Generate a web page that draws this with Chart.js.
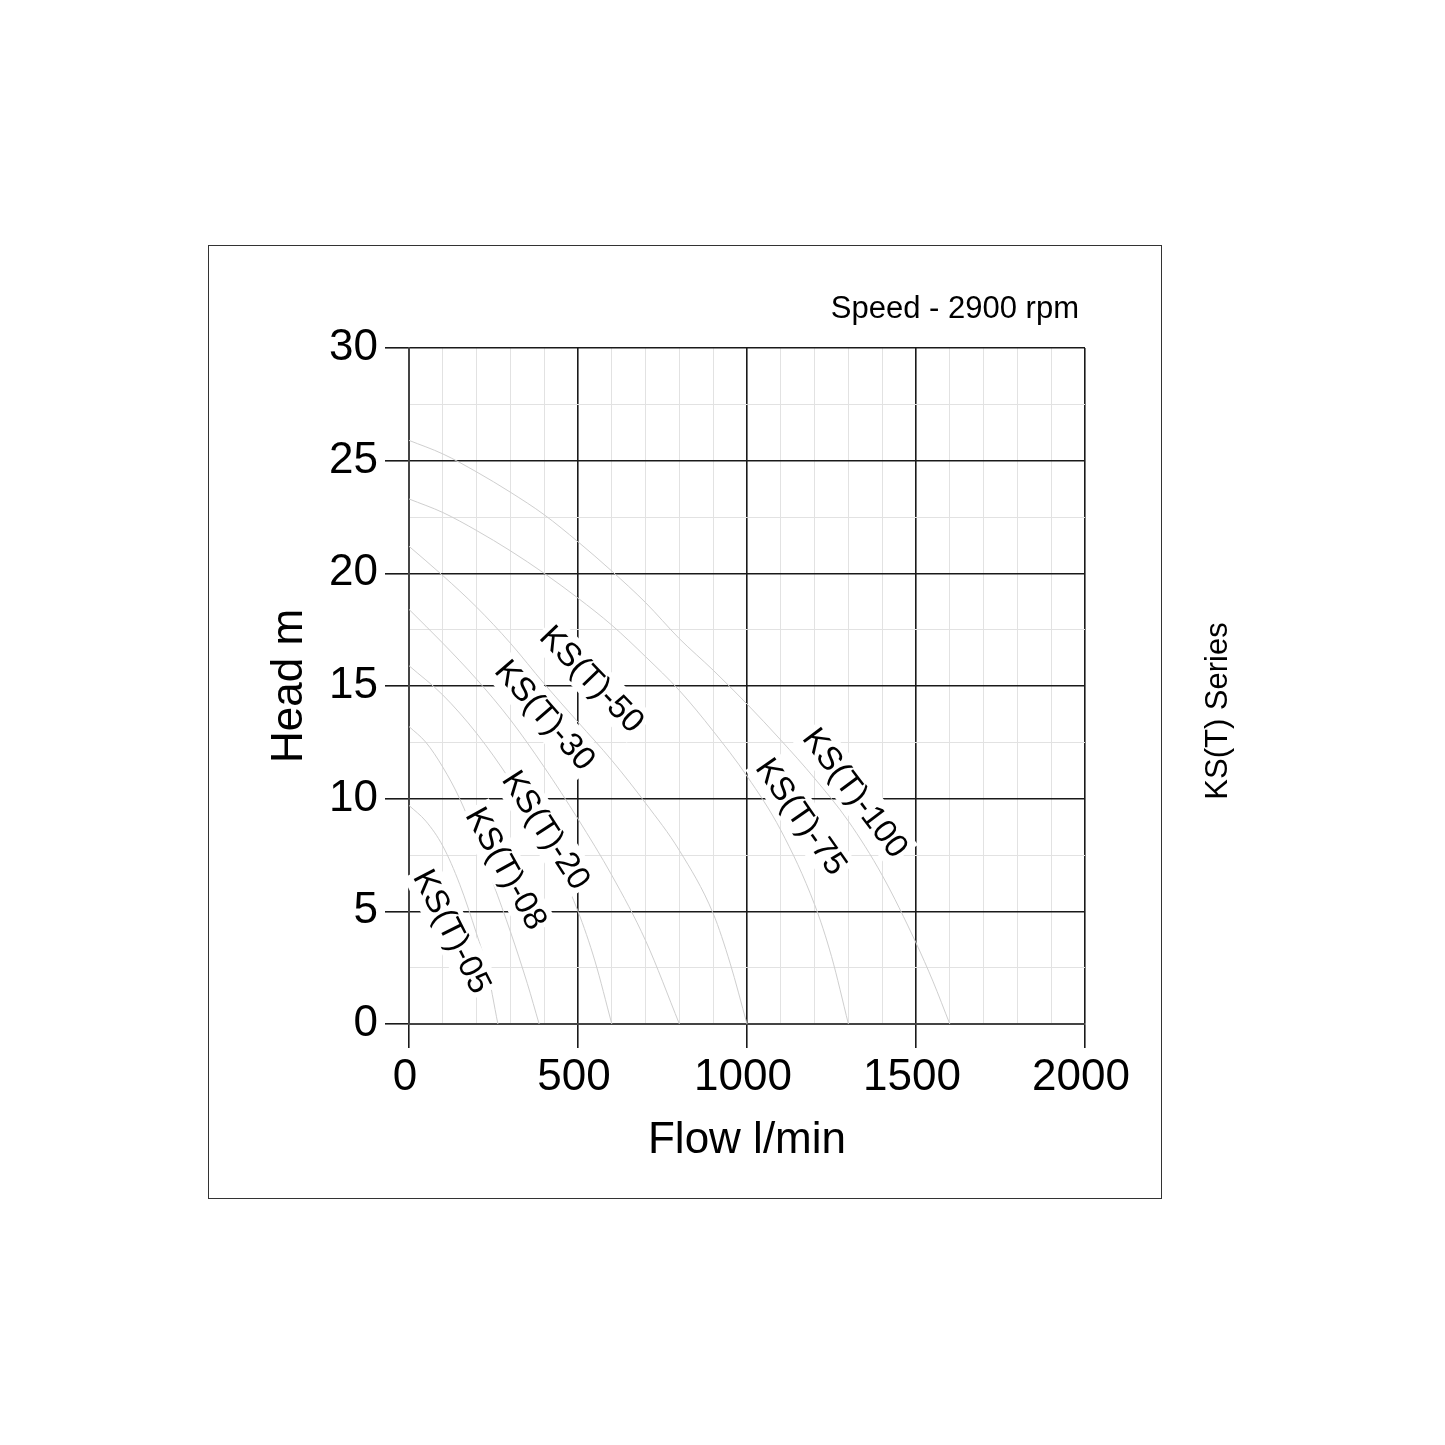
<!DOCTYPE html>
<html><head><meta charset="utf-8">
<script src="https://cdn.jsdelivr.net/npm/chart.js@4.4.1/dist/chart.umd.min.js"></script>
<style>html,body{margin:0;padding:0;background:#fff;}canvas{display:block;}</style>
</head><body>
<canvas id="c" width="1445" height="1445"></canvas>
<script>
// ---- data ----
const seriesNames = ['KS(T)-05','KS(T)-08','KS(T)-20','KS(T)-30','KS(T)-50','KS(T)-75','KS(T)-100'];
const flow05  = [0, 50, 100, 150, 200, 230, 263];
const head05  = [9.7, 9.0, 7.9, 6.2, 4.0, 2.5, 0];
const flow08  = [0, 50, 100, 150, 200, 250, 300, 350, 385];
const head08  = [13.2, 12.5, 11.4, 10.0, 8.2, 6.2, 4.1, 1.8, 0];
const flow20  = [0, 100, 200, 300, 400, 500, 550, 600];
const head20  = [15.9, 14.6, 12.9, 10.8, 8.3, 5.0, 2.8, 0];
const flow30  = [0, 100, 200, 300, 400, 500, 600, 700, 800];
const head30  = [18.4, 16.9, 15.3, 13.5, 11.4, 9.1, 6.6, 3.7, 0];
const flow50  = [0, 100, 200, 300, 400, 500, 600, 700, 800, 900, 950, 1000];
const head50  = [21.2, 19.9, 18.5, 16.9, 15.1, 13.4, 11.7, 9.8, 7.7, 4.9, 2.7, 0];
const flow75  = [0, 100, 200, 300, 400, 500, 600, 700, 800, 900, 1000, 1100, 1200, 1250, 1300];
const head75  = [23.3, 22.7, 21.9, 21.0, 20.0, 18.9, 17.7, 16.3, 14.8, 13.0, 11.0, 8.6, 5.3, 3.0, 0];
const flow100 = [0, 100, 200, 300, 400, 500, 600, 700, 800, 900, 1000, 1100, 1200, 1300, 1400, 1500, 1550, 1600];
const head100 = [25.9, 25.3, 24.5, 23.6, 22.6, 21.4, 20.1, 18.7, 17.1, 15.7, 14.2, 12.6, 10.9, 9.0, 6.6, 3.6, 1.9, 0];

// curve label anchor points (data coords) and tilt
const labelFlow  = [127, 287, 405, 402, 541, 1160, 1320];
const labelHead  = [4.1, 6.9, 8.6, 13.7, 15.3, 9.2, 10.25];
const labelAngle = [63, 61, 57, 49, 46, 55, 53];

// tick labels
const xMajorTicks = [0, 500, 1000, 1500, 2000];
const yMajorTicks = [0, 5, 10, 15, 20, 25, 30];
const xTitle = 'Flow l/min';
const yTitle = 'Head m';
const speedText = 'Speed - 2900 rpm';
const seriesText = 'KS(T) Series';

// ---- chart ----
const FONT = '"Liberation Sans", Arial, Helvetica, sans-serif';
const flows = [flow05, flow08, flow20, flow30, flow50, flow75, flow100];
const heads = [head05, head08, head20, head30, head50, head75, head100];

const datasets = seriesNames.map((n, i) => ({
  label: n,
  data: flows[i].map((f, j) => ({x: f, y: heads[i][j]})),
  borderColor: '#cfcfcf',
  borderWidth: 1,
  pointRadius: 0,
  fill: false,
  cubicInterpolationMode: 'monotone',
  tension: 0.4
}));

const decorPlugin = {
  id: 'decor',
  beforeDraw(chart) {
    const ctx = chart.ctx;
    ctx.save();
    ctx.fillStyle = '#fff';
    ctx.fillRect(0, 0, chart.width, chart.height);
    ctx.restore();
  },
  afterDraw(chart) {
    const ctx = chart.ctx;
    ctx.save();
    ctx.strokeStyle = '#333';
    ctx.lineWidth = 1;
    ctx.strokeRect(208.5, 245.5, 953, 953);
    ctx.fillStyle = '#000';
    ctx.font = '31px ' + FONT;
    ctx.textAlign = 'right';
    ctx.textBaseline = 'alphabetic';
    ctx.fillText(speedText, 1079, 318);
    ctx.translate(1218, 711);
    ctx.rotate(-Math.PI / 2);
    ctx.font = '31px ' + FONT;
    ctx.textAlign = 'center';
    ctx.textBaseline = 'middle';
    ctx.fillText(seriesText, 0, 0);
    ctx.restore();
  }
};

const labelPlugin = {
  id: 'curveLabels',
  afterDatasetsDraw(chart) {
    const {ctx, scales: {x, y}} = chart;
    ctx.save();
    ctx.font = '33px ' + FONT;
    seriesNames.forEach((t, i) => {
      const px = x.getPixelForValue(labelFlow[i]);
      const py = y.getPixelForValue(labelHead[i]);
      const w = ctx.measureText(t).width;
      ctx.save();
      ctx.translate(px, py);
      ctx.rotate(labelAngle[i] * Math.PI / 180);
      ctx.fillStyle = '#fff';
      ctx.fillRect(-w / 2 - 3, -19, w + 6, 38);
      ctx.fillStyle = '#000';
      ctx.textAlign = 'center';
      ctx.textBaseline = 'middle';
      ctx.fillText(t, 0, 1);
      ctx.restore();
    });
    ctx.restore();
  }
};

new Chart(document.getElementById('c'), {
  type: 'line',
  data: {datasets},
  plugins: [decorPlugin, labelPlugin],
  options: {
    responsive: false,
    devicePixelRatio: 1,
    animation: false,
    layout: {padding: {left: 250, right: 360, top: 348, bottom: 261}},
    plugins: {legend: {display: false}, tooltip: {enabled: false}, title: {display: false}},
    scales: {
      x: {
        type: 'linear', min: 0, max: 2000,
        afterFit(s) { s.height = 160; },
        ticks: {
          stepSize: 100, autoSkip: false, maxRotation: 0, padding: 3, labelOffset: -4,
          color: '#000', font: {family: FONT, size: 44},
          callback: v => xMajorTicks.includes(v) ? String(v) : ''
        },
        grid: {
          drawTicks: true, tickLength: 24,
          color: c => xMajorTicks.includes(c.tick.value) ? '#1a1a1a' : '#e2e2e2',
          lineWidth: c => xMajorTicks.includes(c.tick.value) ? 1.6 : 1,
          tickColor: c => xMajorTicks.includes(c.tick.value) ? '#1a1a1a' : 'rgba(0,0,0,0)',
          tickWidth: 1.6
        },
        border: {display: true, color: '#444', width: 2},
        title: {display: true, text: xTitle, color: '#000', font: {family: FONT, size: 44}, padding: {top: 0, bottom: 17}}
      },
      y: {
        type: 'linear', min: 0, max: 30,
        afterFit(s) { s.width = 159; },
        ticks: {
          stepSize: 2.5, autoSkip: false, padding: 7,
          color: '#000', font: {family: FONT, size: 44},
          callback: v => yMajorTicks.includes(v) ? String(v) : ''
        },
        grid: {
          drawTicks: true, tickLength: 24,
          color: c => yMajorTicks.includes(c.tick.value) ? '#1a1a1a' : '#e2e2e2',
          lineWidth: c => yMajorTicks.includes(c.tick.value) ? 1.6 : 1,
          tickColor: c => yMajorTicks.includes(c.tick.value) ? '#1a1a1a' : 'rgba(0,0,0,0)',
          tickWidth: 1.6
        },
        border: {display: true, color: '#444', width: 2},
        title: {display: true, text: yTitle, color: '#000', font: {family: FONT, size: 44}, padding: {top: 13, bottom: 0}}
      }
    }
  }
});
</script>
</body></html>
